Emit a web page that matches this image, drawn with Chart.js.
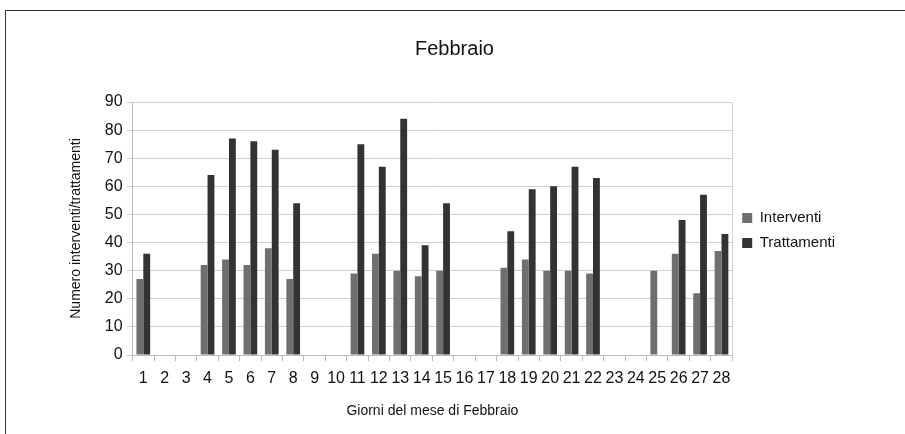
<!DOCTYPE html>
<html>
<head>
<meta charset="utf-8">
<script src="https://cdn.jsdelivr.net/npm/chart.js@4.4.1/dist/chart.umd.min.js"></script>
<style>
  html, body { margin: 0; padding: 0; background: #fff; }
  #wrap { position: relative; width: 905px; height: 434px; }
  #cornice { position: absolute; left: 5px; top: 10px; width: 900px; height: 424px;
    border-left: 1px solid #333; border-top: 1px solid #333; box-sizing: border-box; }
  canvas { position: absolute; left: 0; top: 0; }
</style>
</head>
<body>
<div id="wrap">
  <div id="cornice"></div>
  <canvas id="grafico" width="905" height="434"></canvas>
</div>
<script>
// giorni del mese
const giorni = ['1','2','3','4','5','6','7','8','9','10','11','12','13','14','15','16','17','18','19','20','21','22','23','24','25','26','27','28'];

// valori (null = nessun dato)
const interventi = [27, null, null, 32, 34, 32, 38, 27, null, null, 29, 36, 30, 28, 30, null, null, 31, 34, 30, 30, 29, null, null, 30, 36, 22, 37];
const trattamenti = [36, null, null, 64, 77, 76, 73, 54, null, null, 75, 67, 84, 39, 54, null, null, 44, 59, 60, 67, 63, null, null, null, 48, 57, 43];

const yTicks = [0, 10, 20, 30, 40, 50, 60, 70, 80, 90];

Chart.defaults.font.family = '"Liberation Sans", Arial, sans-serif';
Chart.defaults.color = '#111';

const ctx = document.getElementById('grafico').getContext('2d');
new Chart(ctx, {
  type: 'bar',
  data: {
    labels: giorni,
    datasets: [
      { label: 'Interventi', data: interventi, backgroundColor: '#6f6f6f', borderWidth: 0 },
      { label: 'Trattamenti', data: trattamenti, backgroundColor: '#333333', borderWidth: 0 }
    ]
  },
  options: {
    responsive: false,
    animation: false,
    devicePixelRatio: 1,
    categoryPercentage: 0.64,
    barPercentage: 1.0,
    layout: { padding: { top: 37, left: 64, right: 60, bottom: 10 } },
    plugins: {
      title: {
        display: true,
        text: 'Febbraio',
        font: { size: 20, weight: 'normal' },
        color: '#111',
        padding: { top: 0, bottom: 41 }
      },
      legend: {
        position: 'right',
        labels: {
          font: { size: 15 },
          color: '#111',
          boxWidth: 10,
          boxHeight: 10,
          padding: 10
        }
      },
      tooltip: { enabled: false }
    },
    scales: {
      x: {
        offset: true,
        grid: { drawOnChartArea: false, offset: true, tickLength: 6, color: '#bbb' },
        border: { color: '#bbb' },
        ticks: { font: { size: 16 }, color: '#111', padding: 8, maxRotation: 0, autoSkip: false },
        title: { display: true, text: 'Giorni del mese di Febbraio', font: { size: 14 }, color: '#111', padding: { top: 7 } }
      },
      y: {
        min: 0,
        max: 90,
        afterBuildTicks: (scale) => { scale.ticks = yTicks.map(v => ({ value: v })); },
        grid: { color: '#cfcfcf', tickLength: 6 },
        border: { color: '#bbb' },
        ticks: { font: { size: 16 }, color: '#111', padding: 4 },
        title: { display: true, text: 'Numero interventi/trattamenti', font: { size: 14 }, color: '#111', padding: { bottom: 16 } }
      },
      y2: {
        position: 'right',
        min: 0,
        max: 90,
        grid: { drawOnChartArea: false, drawTicks: false },
        border: { color: '#cfcfcf' },
        ticks: { display: false }
      }
    }
  }
});
</script>
</body>
</html>
